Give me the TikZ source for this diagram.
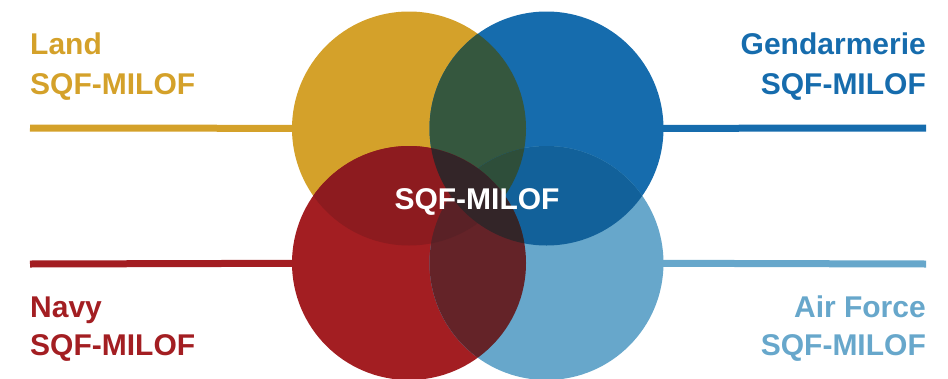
\documentclass[tikz,border=0pt]{standalone}
\usepackage{fontspec}
\setmainfont{Liberation Sans}
\usepackage{xcolor}
\definecolor{landcol}{HTML}{D4A12A}
\definecolor{gendcol}{HTML}{166CAD}
\definecolor{navycol}{HTML}{A31E22}
\definecolor{aircol}{HTML}{67A7CB}
\definecolor{landgend}{HTML}{35573E}
\definecolor{landnavy}{HTML}{8D1B1F}
\definecolor{gendair}{HTML}{12619A}
\definecolor{navyair}{HTML}{642328}
\definecolor{landgendair}{HTML}{2E4E3A}
\definecolor{landnavyair}{HTML}{5A2126}
\definecolor{gendnavy}{HTML}{332528}

\begin{document}
\begin{tikzpicture}[x=1pt,y=-1pt,
		armtext/.style={font=\fontsize{30}{36}\selectfont\bfseries,inner sep=0pt},
		rule/.style={line width=7pt}]
			\useasboundingbox (0,0) rectangle (948,378);
			\def\rad{117pt}
			\coordinate (L) at (409,128.5);
			\coordinate (G) at (546.5,128.5);
			\coordinate (N) at (409,263);
			\coordinate (A) at (546.5,263);
			\coordinate (le) at (30,128);
			\coordinate (ge) at (926,128);
			\coordinate (ne) at (30,264);
			\coordinate (ae) at (926,264);
			\draw[rule,landcol] (le) -- (L);
			\draw[rule,gendcol] (ge) -- (G);
			\draw[rule,navycol] (ne) -- (N);
			\draw[rule,aircol] (ae) -- (A);
			\foreach \Arme/\Couleur in {L/landcol,G/gendcol,N/navycol,A/aircol}
				\fill[\Couleur] (\Arme) circle (\rad);
			% pairs
			\begin{scope}
				\clip (L) circle (\rad);
				\fill[landgend] (G) circle (\rad);
				\fill[landnavy] (N) circle (\rad);
			\end{scope}
			\begin{scope}
				\clip (G) circle (\rad);
				\fill[gendair] (A) circle (\rad);
			\end{scope}
			\begin{scope}
				\clip (N) circle (\rad);
				\fill[navyair] (A) circle (\rad);
			\end{scope}
			% triples
			\begin{scope}
				\clip (L) circle (\rad);
				\clip (G) circle (\rad);
				\fill[landgendair] (A) circle (\rad);
			\end{scope}
			\begin{scope}
				\clip (L) circle (\rad);
				\clip (N) circle (\rad);
				\fill[landnavyair] (A) circle (\rad);
			\end{scope}
			\begin{scope}
				\clip (G) circle (\rad);
				\fill[gendnavy] (N) circle (\rad);
			\end{scope}
			\node[armtext,white,anchor=base] (core) at (477,209) {SQF-MILOF};
			\node[armtext,landcol,anchor=base west] (landname) at (30,54) {Land};
			\node[armtext,landcol,anchor=base west] (landsqf) at (30,94) {SQF-MILOF};
			\node[armtext,gendcol,anchor=base east] (gendname) at (926,54) {Gendarmerie};
			\node[armtext,gendcol,anchor=base east] (gendsqf) at (926,94) {SQF-MILOF};
			\node[armtext,navycol,anchor=base west] (navyname) at (30,317) {Navy};
			\node[armtext,navycol,anchor=base west] (navysqf) at (30,355) {SQF-MILOF};
			\node[armtext,aircol,anchor=base east] (airname) at (926,317) {Air Force};
			\node[armtext,aircol,anchor=base east] (airsqf) at (926,355) {SQF-MILOF};
		\end{tikzpicture}
\end{document}
